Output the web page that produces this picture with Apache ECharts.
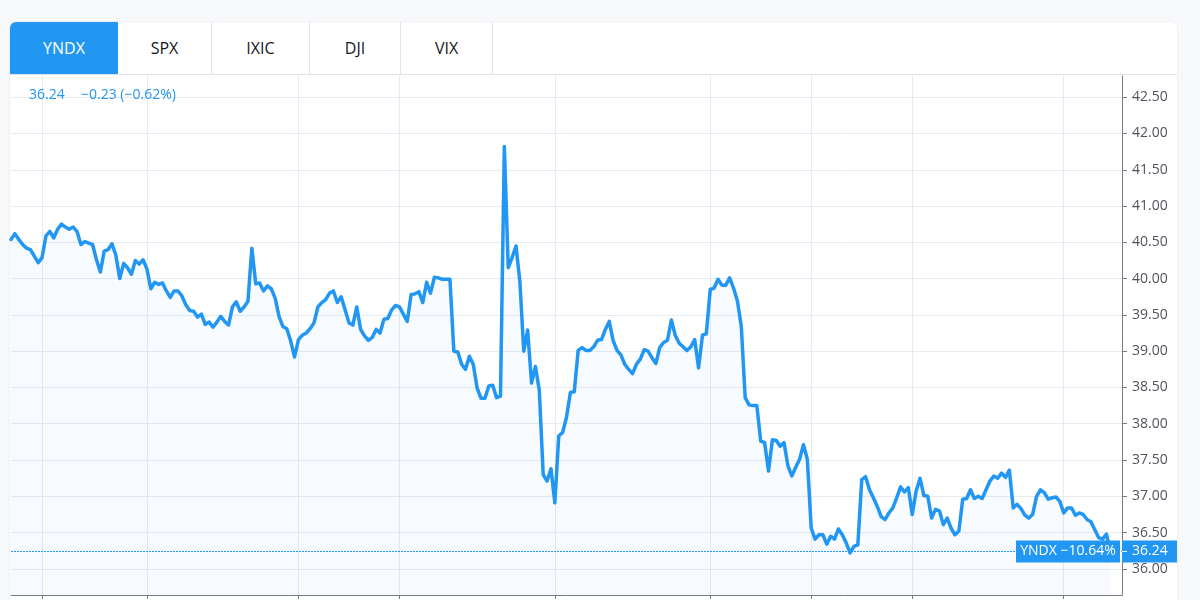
<!DOCTYPE html>
<html>
<head>
<meta charset="utf-8">
<script src="https://cdn.jsdelivr.net/npm/echarts/dist/echarts.min.js"></script>
<style>
html,body{margin:0;padding:0;width:1200px;height:600px;overflow:hidden;background:#f7f8fa;font-family:'Open Sans',sans-serif;}
#card{position:absolute;left:10px;top:22px;width:1167px;height:600px;background:#fff;border-radius:6px 6px 0 0;box-shadow:0 0 0 1px #eef0f4;}
#chart{position:absolute;left:0;top:0;width:1200px;height:600px;}
#tabs{position:absolute;left:10px;top:22px;width:1167px;height:52px;border-bottom:1px solid #e0e3eb;display:flex;background:#fff;border-radius:6px 6px 0 0;}
.tab{height:52px;line-height:52px;text-align:center;font-size:16px;color:#131722;border-right:1px solid #e0e3eb;box-sizing:border-box;}
.tab.active{background:#2196f3;color:#fff;border-right:none;border-top-left-radius:6px;}
</style>
</head>
<body>
<div id="card"></div>
<div id="chart"></div>
<div id="tabs"></div>
<script>
// ---- data ----
const tabNames = ['YNDX', 'SPX', 'IXIC', 'DJI', 'VIX'];
const tabWidths = [108, 94, 98, 91, 92];
const symbol = 'YNDX';
const lastPrice = 36.24;
const change = -0.23;
const changePct = -0.62;
const periodPct = -10.64;
const values = [
40.54,40.62,40.54,40.47,40.42,40.40,40.31,40.22,40.29,40.59,
40.65,40.56,40.68,40.75,40.71,40.68,40.71,40.65,40.47,40.51,
40.49,40.47,40.26,40.09,40.38,40.40,40.48,40.32,40.00,40.21,
40.15,40.06,40.25,40.20,40.26,40.13,39.86,39.95,39.92,39.94,
39.83,39.74,39.83,39.83,39.76,39.64,39.56,39.55,39.47,39.51,
39.37,39.40,39.33,39.40,39.48,39.41,39.36,39.61,39.68,39.55,
39.61,39.69,40.42,39.93,39.94,39.83,39.90,39.86,39.73,39.48,
39.34,39.31,39.14,38.92,39.16,39.22,39.25,39.31,39.39,39.61,
39.67,39.71,39.80,39.83,39.67,39.75,39.57,39.39,39.36,39.61,
39.30,39.21,39.15,39.19,39.30,39.25,39.44,39.45,39.57,39.63,
39.61,39.51,39.41,39.78,39.79,39.82,39.67,39.95,39.80,40.02,
40.01,39.99,39.99,39.99,39.00,38.99,38.82,38.75,38.93,38.82,
38.49,38.35,38.35,38.52,38.53,38.36,38.38,41.82,40.15,40.29,
40.45,39.96,39.00,39.29,38.56,38.79,38.46,37.30,37.21,37.38,
36.91,37.83,37.88,38.09,38.43,38.44,39.01,39.05,39.01,39.01,
39.06,39.15,39.16,39.30,39.41,39.15,39.01,38.95,38.82,38.75,
38.69,38.82,38.89,39.02,39.00,38.91,38.83,39.05,39.12,39.15,
39.43,39.22,39.11,39.06,39.01,39.06,39.16,38.77,39.22,39.24,
39.85,39.87,39.99,39.91,39.91,40.01,39.87,39.69,39.34,38.36,
38.26,38.25,38.25,37.76,37.74,37.35,37.78,37.77,37.69,37.74,
37.42,37.28,37.40,37.51,37.71,37.51,36.56,36.41,36.47,36.47,
36.34,36.45,36.41,36.55,36.47,36.36,36.22,36.31,36.33,37.23,
37.27,37.09,36.98,36.86,36.72,36.68,36.77,36.84,36.98,37.13,
37.06,37.12,36.75,37.07,37.25,37.01,37.00,36.70,36.82,36.80,
36.61,36.70,36.56,36.47,36.52,36.96,36.97,37.09,36.97,37.00,
36.97,37.09,37.21,37.28,37.25,37.32,37.26,37.36,36.84,36.89,
36.83,36.74,36.70,36.75,37.00,37.09,37.05,36.96,36.98,36.99,
36.93,36.77,36.84,36.84,36.74,36.77,36.75,36.68,36.65,36.54,
36.43,36.41,36.48,36.24
];
const categoryCount = 287;
const categories = Array.from({length: categoryCount}, (_, i) => 'D' + (i + 1));
const xTickIdx = [8, 35, 74, 100, 140, 180, 206, 232, 271];
const yMin = 35.64, yMax = 42.792;

// ---- tabs ----
const tabsEl = document.getElementById('tabs');
tabNames.forEach((n, i) => {
  const d = document.createElement('div');
  d.className = 'tab' + (n === symbol ? ' active' : '');
  d.style.width = tabWidths[i] + 'px';
  d.textContent = n;
  tabsEl.appendChild(d);
});

// ---- chart ----
const FONT = "'Open Sans', sans-serif";
const BLUE = '#2196f3';
const gridColor = '#e4ebf2';
const axisColor = '#787b86';
const fmt = v => (v < 0 ? '\u2212' : '') + Math.abs(v).toFixed(2);

const chart = echarts.init(document.getElementById('chart'));
chart.setOption({
  animation: false,
  grid: {left: 11, right: 78, top: 76, bottom: 5},
  xAxis: {
    type: 'category', data: categories, boundaryGap: false,
    axisLine: {show: true, lineStyle: {color: axisColor}},
    axisTick: {show: true, interval: i => xTickIdx.includes(i), length: 4, lineStyle: {color: axisColor}},
    axisLabel: {show: false},
    splitLine: {show: true, interval: i => xTickIdx.includes(i), lineStyle: {color: gridColor}}
  },
  yAxis: {
    type: 'value', position: 'right', min: yMin, max: yMax,
    splitNumber: 14, minInterval: 0.5, maxInterval: 0.5,
    axisLine: {show: true, lineStyle: {color: axisColor}},
    axisTick: {show: true, length: 5, lineStyle: {color: axisColor}},
    axisLabel: {showMinLabel: false, showMaxLabel: false, margin: 10, color: '#50535e',
      fontSize: 14, fontFamily: FONT, formatter: v => v.toFixed(2)},
    splitLine: {show: true, showMinLine: false, showMaxLine: false, lineStyle: {color: gridColor}}
  },
  series: [{
    type: 'line', data: values, showSymbol: false, symbol: 'none',
    lineStyle: {color: BLUE, width: 3.5, cap: 'round', join: 'round'},
    areaStyle: {color: 'rgba(33,150,243,0.05)', origin: 'start'},
    markLine: {
      silent: true, symbol: 'none', label: {show: false},
      lineStyle: {color: BLUE, type: [2, 1], width: 1.2, opacity: 1},
      data: [{yAxis: lastPrice}]
    }
  }]
});

const yPix = chart.convertToPixel({yAxisIndex: 0}, lastPrice);
const axisX = chart.convertToPixel({xAxisIndex: 0}, categoryCount - 1);
const boxH = 22;
chart.setOption({
  graphic: [
    {type: 'text', left: 29, top: 88, z: 100,
      style: {text: lastPrice.toFixed(2), fill: BLUE, font: '14px ' + FONT}},
    {type: 'text', left: 81, top: 88, z: 100,
      style: {text: fmt(change) + ' (' + fmt(changePct) + '%)', fill: BLUE, font: '14px ' + FONT}},
    {type: 'rect', z: 100, shape: {x: axisX - 106, y: yPix - boxH / 2, width: 104, height: boxH},
      style: {fill: BLUE}},
    {type: 'text', z: 101, x: axisX - 54, y: yPix,
      style: {text: symbol + ' ' + fmt(periodPct) + '%', fill: '#fff', font: '14px ' + FONT,
        align: 'center', verticalAlign: 'middle'}},
    {type: 'rect', z: 100, shape: {x: axisX, y: yPix - boxH / 2, width: 1177 - axisX, height: boxH},
      style: {fill: BLUE}},
    {type: 'line', z: 101, shape: {x1: axisX, y1: yPix, x2: axisX + 5, y2: yPix},
      style: {stroke: '#fff', lineWidth: 1}},
    {type: 'text', z: 101, x: axisX + 10, y: yPix,
      style: {text: lastPrice.toFixed(2), fill: '#fff', font: '14px ' + FONT,
        align: 'left', verticalAlign: 'middle'}}
  ]
});
</script>
</body>
</html>
